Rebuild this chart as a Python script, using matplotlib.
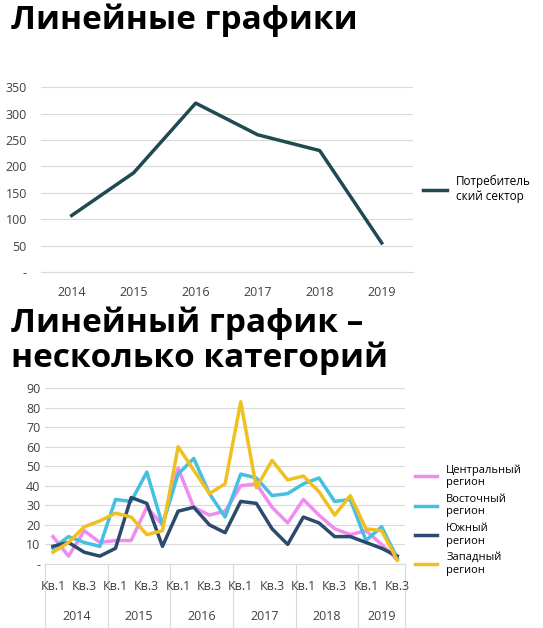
import matplotlib
matplotlib.use("Agg")
import matplotlib.pyplot as plt

plt.rcParams['font.family'] = ['Open Sans', 'DejaVu Sans']

years = ["2014", "2015", "2016", "2017", "2018", "2019"]
consumer = [107, 188, 320, 260, 230, 55]

year_quarters = [4, 4, 4, 4, 4, 3]
central = [14, 4, 17, 11, 12, 12, 29, 20, 49, 29, 25, 27, 40, 41, 29, 21, 33, 25, 18, 15, 17, 10, 2]
eastern = [8, 14, 11, 9, 33, 32, 47, 20, 46, 54, 36, 24, 46, 44, 35, 36, 41, 44, 32, 33, 12, 19, 3]
southern = [9, 11, 6, 4, 8, 34, 31, 9, 27, 29, 20, 16, 32, 31, 18, 10, 24, 21, 14, 14, 11, 8, 4]
western = [6, 11, 19, 22, 26, 24, 15, 17, 60, 48, 36, 41, 83, 39, 53, 43, 45, 37, 25, 35, 18, 17, 2]

fig = plt.figure(figsize=(5.43, 6.28), dpi=100)
fig.text(0.02, 0.968, "Линейные графики", fontsize=24, fontweight="bold", va="center")
fig.text(0.02, 0.458, "Линейный график –\nнесколько категорий", fontsize=24,
         fontweight="bold", va="center", linespacing=1.05)

grid_c = "#d9d9d9"
tick_c = "#404040"

# top chart
ax1 = fig.add_axes([0.075, 0.567, 0.685, 0.294])
ax1.plot(range(len(years)), consumer, color="#1f4a52", lw=2.5, label="Потребитель\nский сектор")
ax1.set_ylim(0, 350)
ax1.set_xlim(-0.5, len(years) - 0.5)
ax1.set_yticks(range(0, 351, 50))
ax1.set_yticklabels(["-"] + [str(v) for v in range(50, 351, 50)])
ax1.set_xticks(range(len(years)))
ax1.set_xticklabels(years)
ax1.grid(axis="y", color=grid_c, lw=0.8)
ax1.set_axisbelow(True)
for s in ["top", "right", "left"]:
    ax1.spines[s].set_visible(False)
ax1.spines["bottom"].set_color(grid_c)
ax1.tick_params(length=0, labelsize=9, colors=tick_c, pad=10)
ax1.legend(loc="center left", bbox_to_anchor=(1.0, 0.45), frameon=False, fontsize=8.5,
           handlelength=2)

# bottom chart
n = sum(year_quarters)
ax2 = fig.add_axes([0.083, 0.102, 0.663, 0.280])
series = [("Центральный\nрегион", central, "#f08cf0"),
          ("Восточный\nрегион", eastern, "#45c0e0"),
          ("Южный\nрегион", southern, "#2c4a6e"),
          ("Западный\nрегион", western, "#f0c020")]
for name, vals, c in series:
    ax2.plot(range(n), vals, color=c, lw=2.5, label=name)
ax2.set_ylim(0, 90)
ax2.set_xlim(-0.5, n - 0.5)
ax2.set_yticks(range(0, 91, 10))
ax2.set_yticklabels(["-"] + [str(v) for v in range(10, 91, 10)])
ax2.set_xticks([])
ax2.grid(axis="y", color=grid_c, lw=0.8)
ax2.set_axisbelow(True)
for s in ["top", "right", "left"]:
    ax2.spines[s].set_visible(False)
ax2.spines["bottom"].set_color(grid_c)
ax2.tick_params(length=0, labelsize=9, colors=tick_c)
ax2.legend(loc="center left", bbox_to_anchor=(1.0, 0.25), frameon=False, fontsize=8,
           handlelength=2, labelspacing=0.5)

trans = ax2.get_xaxis_transform()
start = 0
for y, q in zip(years, year_quarters):
    ax2.plot([start - 0.5, start - 0.5], [0, -0.4], transform=trans, color=grid_c,
             lw=0.8, clip_on=False)
    ax2.text(start, -0.13, "Кв.1", transform=trans, ha="center", va="center", fontsize=9, color=tick_c)
    ax2.text(start + 2, -0.13, "Кв.3", transform=trans, ha="center", va="center", fontsize=9, color=tick_c)
    ax2.text(start + (q - 1) / 2, -0.30, y, transform=trans, ha="center", va="center",
             fontsize=9, color=tick_c)
    start += q
ax2.plot([start - 0.5, start - 0.5], [0, -0.4], transform=trans, color=grid_c,
         lw=0.8, clip_on=False)

fig.savefig("out.png", dpi=100, facecolor="white")
